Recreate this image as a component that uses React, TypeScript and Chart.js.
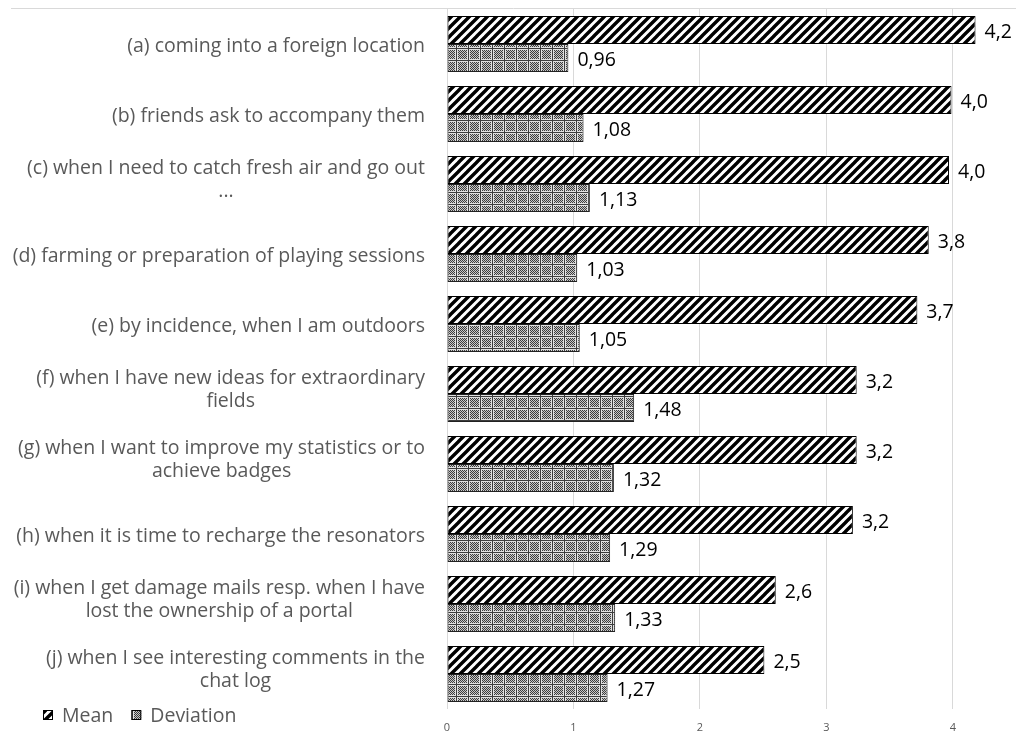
import React, { useEffect, useRef } from "react";
import { Chart, registerables } from "chart.js";

Chart.register(...registerables);

const categories: (string | string[])[] = [
  "(a) coming into a foreign location",
  "(b) friends ask to accompany them",
  ["(c) when I need to catch fresh air and go out", "..."],
  "(d) farming or preparation of playing sessions",
  "(e) by incidence, when I am outdoors",
  ["(f) when I have new ideas for extraordinary", "fields"],
  ["(g) when I want to improve my statistics or to", "achieve badges"],
  "(h) when it is time to recharge the resonators",
  ["(i) when I get damage mails resp. when I have", "lost the ownership of a portal"],
  ["(j) when I see interesting comments in the", "chat log"],
];

const meanValues = [4.18, 3.99, 3.97, 3.81, 3.72, 3.24, 3.24, 3.21, 2.6, 2.51];
const deviationValues = [0.96, 1.08, 1.13, 1.03, 1.05, 1.48, 1.32, 1.29, 1.33, 1.27];
const seriesNames = ["Mean", "Deviation"];
const meanDecimals = 1;
const deviationDecimals = 2;

const FONT = "'Open Sans', sans-serif";
const LABEL_SIZE = 19.5;
const GRAY = "#595959";

function makeHatch(): CanvasPattern {
  const s = 9;
  const c = document.createElement("canvas");
  c.width = s;
  c.height = s;
  const g = c.getContext("2d")!;
  g.fillStyle = "#fff";
  g.fillRect(0, 0, s, s);
  g.strokeStyle = "#000";
  g.lineWidth = 3.4;
  g.beginPath();
  for (let k = -1; k <= 1; k++) {
    g.moveTo(k * s - 1, s + 1);
    g.lineTo(k * s + s + 1, -1);
  }
  g.stroke();
  return g.createPattern(c, "repeat")!;
}

function makeGrid(): CanvasPattern {
  const s = 12;
  const c = document.createElement("canvas");
  c.width = s;
  c.height = s;
  const g = c.getContext("2d")!;
  const img = g.createImageData(s, s);
  for (let y = 0; y < s; y++) {
    for (let x = 0; x < s; x++) {
      let v: number;
      if (x === 0 || y === 0) v = 60;
      else if (x === 1 || y === 1 || x === s - 1 || y === s - 1) v = 225;
      else v = (x + y) % 2 === 0 ? 60 : 200;
      const i = (y * s + x) * 4;
      img.data[i] = v;
      img.data[i + 1] = v;
      img.data[i + 2] = v;
      img.data[i + 3] = 255;
    }
  }
  g.putImageData(img, 0, 0);
  return g.createPattern(c, "repeat")!;
}

const fmt = (v: number, d: number) => v.toFixed(d).replace(".", ",");

const overlayPlugin = {
  id: "overlay",
  afterDraw(chart: any) {
    const ctx: CanvasRenderingContext2D = chart.ctx;
    const area = chart.chartArea;
    const yScale = chart.scales.y;
    ctx.save();

    // top border line
    ctx.strokeStyle = "#d9d9d9";
    ctx.lineWidth = 1;
    ctx.beginPath();
    ctx.moveTo(11, area.top - 0.5);
    ctx.lineTo(chart.width, area.top - 0.5);
    ctx.stroke();

    // category labels
    ctx.font = `${LABEL_SIZE}px ${FONT}`;
    ctx.fillStyle = GRAY;
    ctx.textBaseline = "middle";
    const lineH = 23;
    const rightX = 425;
    categories.forEach((lab, i) => {
      const lines = Array.isArray(lab) ? lab : [lab];
      const cy = yScale.getPixelForValue(i) + 2 - (lines.length > 1 ? 6 : 0);
      const widths = lines.map((l) => ctx.measureText(l).width);
      const maxW = Math.max(...widths);
      const center = rightX - maxW / 2;
      ctx.textAlign = "center";
      lines.forEach((l, k) => {
        const y = cy + (k - (lines.length - 1) / 2) * lineH;
        ctx.fillText(l, center, y);
      });
    });

    // data labels
    ctx.fillStyle = "#000";
    ctx.textAlign = "left";
    chart.data.datasets.forEach((ds: any, di: number) => {
      const meta = chart.getDatasetMeta(di);
      const dec = di === 0 ? meanDecimals : deviationDecimals;
      meta.data.forEach((el: any, i: number) => {
        ctx.fillText(fmt(ds.data[i], dec), el.x + 9, el.y + 2);
      });
    });

    // legend
    let x = 43;
    const ly = 715;
    chart.data.datasets.forEach((ds: any) => {
      ctx.fillStyle = ds.backgroundColor;
      ctx.fillRect(x, ly - 5, 10, 10);
      ctx.strokeStyle = "#000";
      ctx.lineWidth = 1;
      ctx.strokeRect(x + 0.5, ly - 4.5, 9, 9);
      ctx.fillStyle = GRAY;
      ctx.textAlign = "left";
      ctx.fillText(ds.label, x + 19, ly + 1);
      x += 19 + ctx.measureText(ds.label).width + 18;
    });

    ctx.restore();
  },
};

export default function App() {
  const ref = useRef<HTMLCanvasElement | null>(null);
  useEffect(() => {
    const canvas = ref.current!;
    const hatch = makeHatch();
    const grid = makeGrid();
    const chart = new Chart(canvas, {
      type: "bar",
      data: {
        labels: categories as any,
        datasets: [
          {
            label: seriesNames[0],
            data: meanValues,
            backgroundColor: hatch as any,
            borderColor: "#000",
            borderWidth: 1,
            borderSkipped: false,
            categoryPercentage: 0.8,
            barPercentage: 1,
          },
          {
            label: seriesNames[1],
            data: deviationValues,
            backgroundColor: grid as any,
            borderColor: "#222",
            borderWidth: 1,
            borderSkipped: false,
            categoryPercentage: 0.8,
            barPercentage: 1,
          },
        ],
      },
      options: {
        indexAxis: "y",
        responsive: false,
        animation: false,
        layout: { padding: { left: 447, top: 9, right: 0, bottom: 0 } },
        plugins: { legend: { display: false }, tooltip: { enabled: false } },
        scales: {
          x: {
            min: 0,
            max: 4.5,
            ticks: {
              stepSize: 1,
              includeBounds: false,
              color: GRAY,
              font: { family: FONT, size: 11 },
              padding: 12,
            },
            grid: { color: "#d9d9d9", drawTicks: false },
            border: { display: false },
            afterFit: (s: any) => {
              s.height = 22;
            },
          },
          y: { display: false },
        },
      },
      plugins: [overlayPlugin],
    } as any);
    return () => chart.destroy();
  }, []);
  return (
    <div style={{ position: "absolute", left: 0, top: 0, width: 1016, height: 731 }}>
      <canvas ref={ref} width={1016} height={731} style={{ display: "block" }} />
    </div>
  );
}
